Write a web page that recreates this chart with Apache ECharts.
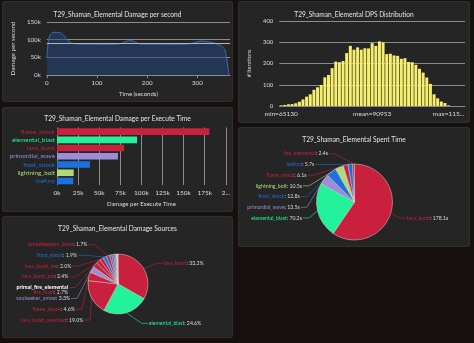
<!DOCTYPE html>
<html>
<head>
<meta charset="utf-8">
<script src="https://cdn.jsdelivr.net/npm/echarts@6/dist/echarts.min.js"></script>
<style>
  html, body { margin: 0; padding: 0; width: 474px; height: 343px; overflow: hidden; background: #16100e; }
  .panel { position: absolute; background: #252525; border-radius: 3px; box-shadow: inset 0 0 0 1px #2f2f2f; }
</style>
</head>
<body>
<div id="dps" class="panel" style="left:2px;top:1px;width:231px;height:101px"></div>
<div id="dist" class="panel" style="left:238px;top:1px;width:232px;height:122px"></div>
<div id="det" class="panel" style="left:2px;top:107px;width:231px;height:105px"></div>
<div id="spent" class="panel" style="left:238px;top:127px;width:232px;height:120px"></div>
<div id="sources" class="panel" style="left:2px;top:216px;width:231px;height:122px"></div>
<script>
// ---- data ----
const actor = 'T29_Shaman_Elemental';

// DPS over time (seconds, damage per second)
const dpsTime = [0, 3, 6, 10, 15, 20, 25, 30, 35, 40, 45, 50, 55, 60, 70, 80, 90, 100, 110, 120, 130, 140, 145, 150, 155, 160, 165, 170, 175, 180, 185, 190, 200, 210, 220, 230, 240, 250, 260, 270, 280, 285, 290, 295, 300, 305, 310, 315, 320, 325, 330, 335, 340, 345, 350, 355, 358, 361, 363];
const dpsValues = [50000, 95000, 112000, 119000, 121000, 121000, 120000, 117000, 110000, 101000, 94000, 90000, 88500, 88000, 87500, 87500, 87000, 87000, 87000, 87000, 87000, 87500, 88500, 90000, 93000, 96000, 97500, 97000, 94500, 91000, 88500, 87500, 87000, 87000, 87000, 87000, 87000, 87000, 87000, 87000, 87500, 88500, 90000, 92000, 94000, 95500, 96000, 95500, 94500, 93500, 92000, 90000, 87000, 84000, 80000, 70000, 50000, 20000, 0];
const meanDps = 90953;

// DPS distribution histogram (# iterations per bin)
const distCounts = [3, 5, 8, 9, 13, 20, 31, 44, 55, 76, 88, 99, 135, 146, 178, 209, 206, 212, 249, 283, 265, 276, 265, 272, 271, 296, 283, 304, 299, 244, 246, 238, 236, 222, 225, 207, 206, 194, 175, 157, 134, 104, 55, 36, 21, 14, 3, 0, 0, 0, 0];
const distTickIndex = [0, 25, 46];
const distTickText = ['min=65130', 'mean=90953', 'max=115...'];

// Damage per execute time
const detNames = ['flame_shock', 'elemental_blast', 'lava_burst', 'primordial_wave', 'frost_shock', 'lightning_bolt', 'icefury'];
const detValues = [180500, 94800, 79600, 72200, 39000, 19800, 19300];
const detSchools = ['fire', 'elemental', 'fire', 'shadow', 'frost', 'nature', 'frost'];

// Spent time (seconds)
const spentNames = ['lava_burst', 'elemental_blast', 'primordial_wave', 'frost_shock', 'lightning_bolt', 'flame_shock', 'icefury', 'fire_elemental'];
const spentSeconds = [178.1, 70.2, 13.5, 12.8, 10.5, 6.1, 5.7, 2.4];
const spentSchools = ['fire', 'elemental', 'shadow', 'frost', 'nature', 'fire', 'frost', 'fire'];

// Damage sources (% of total damage)
const srcNames = ['lava_burst', 'elemental_blast', 'lava_burst_overload', 'flame_shock', 'soulseeker_arrow', 'fire_blast', 'lava_burst_pw', 'lava_burst_pw', 'frost_shock', 'broodkeepers_blaze', 'icefury', 'meteor', 'icefury_overload', 'primordial_wave', 'lightning_bolt', 'lightning_bolt_overload'];
const srcOwners = ['', '', '', '', '', 'primal_fire_elemental', '', '', '', '', '', '', '', '', '', ''];
const srcPercent = [33.2, 24.6, 19.0, 4.6, 3.3, 2.7, 2.4, 2.0, 1.9, 1.7, 1.3, 1.0, 0.9, 0.6, 0.5, 0.3];
const srcSchools = ['fire', 'elemental', 'fire', 'fire', 'shadow', 'fire', 'fire', 'fire', 'frost', 'fire', 'frost', 'fire', 'frost', 'shadow', 'nature', 'nature'];
const srcLabelMin = 1.5;

// ---- styling ----
const FONT = 'Lato, "Open Sans", sans-serif';
const TEXT = '#dcdcdc';
const GRID = '#8c8c8c';
const schoolColor = {
  fire: '#C8203D',
  elemental: '#22F29A',
  shadow: '#9E8DD6',
  frost: '#1B72DE',
  nature: '#B2D978'
};

function titleOf(text, top) {
  return { text: text, left: 'center', top: top,
    textStyle: { color: '#e4e4e4', fontSize: 6.6, fontWeight: 'normal', fontFamily: FONT } };
}
const kfmt = v => (v / 1000) + 'k';

// Pie label placement: labels on the left are stacked upward from a baseline
// with a fixed step and pulled onto a circle of radius R around the centre;
// labels on the right stay at their slice's direction.
function stackedPieLabels(cfg) {
  const total = cfg.values.reduce((a, b) => a + b, 0);
  const rank = {};
  let acc = 0, k = 0;
  cfg.values.forEach((v, i) => {
    const mid = (acc + v / 2) / total * Math.PI * 2;
    acc += v;
    if (cfg.shown[i] && Math.sin(mid) < 0) rank[i] = k++;
  });
  return function (p) {
    if (!p.labelLinePoints) return {};
    const e = p.labelLinePoints[0];
    const ux = (e[0] - cfg.cx) / cfg.r, uy = (e[1] - cfg.cy) / cfg.r;
    const dir = ux < 0 ? -1 : 1;
    const n = cfg.lines ? (cfg.lines[p.dataIndex] || 1) : 1;
    const lineH = p.labelRect.height / n;
    const yFirst = (dir < 0 && rank[p.dataIndex] !== undefined)
      ? cfg.bottom - rank[p.dataIndex] * cfg.step
      : cfg.cy + uy * cfg.reach;
    const dy = yFirst - cfg.cy;
    const dx = Math.sqrt(Math.max(cfg.R * cfg.R - dy * dy, 0));
    const xt = cfg.cx + dir * Math.max(dx, 12);
    return {
      x: xt, y: yFirst + (n - 1) * lineH / 2,
      align: dir < 0 ? 'right' : 'left', verticalAlign: 'middle',
      labelLinePoints: [e, [xt - dir * 7, yFirst], [xt - dir * 1, yFirst]]
    };
  };
}

// ---- DPS timeline ----
echarts.init(document.getElementById('dps')).setOption({
  animation: false,
  textStyle: { fontFamily: FONT },
  title: titleOf(actor + ' Damage per second', 5),
  grid: { left: 38, right: 3, top: 21, bottom: 26 },
  xAxis: {
    type: 'value', min: 0, max: 365, interval: 100,
    name: 'Time (seconds)', nameLocation: 'middle', nameGap: 13,
    nameTextStyle: { color: TEXT, fontSize: 6 },
    axisLine: { show: true, lineStyle: { color: GRID } },
    axisTick: { show: true, length: 3, lineStyle: { color: GRID } },
    axisLabel: { color: TEXT, fontSize: 6.2, margin: 5, showMaxLabel: false },
    splitLine: { show: false }
  },
  yAxis: {
    type: 'value', min: 0, max: 150000, interval: 50000,
    name: 'Damage per second', nameLocation: 'middle', nameGap: 21, nameRotate: 90,
    nameTextStyle: { color: TEXT, fontSize: 6.2 },
    axisLine: { show: false }, axisTick: { show: false },
    axisLabel: { color: TEXT, fontSize: 6.2, margin: 6, formatter: kfmt },
    splitLine: { lineStyle: { color: GRID, width: 1 } }
  },
  series: [{
    type: 'line', showSymbol: false, smooth: 0.3,
    data: dpsTime.map((t, i) => [t, dpsValues[i]]),
    lineStyle: { color: '#3a6db3', width: 1 },
    areaStyle: { color: 'rgba(34,72,128,0.75)' },
    markLine: {
      silent: true, symbol: 'none', label: { show: false },
      lineStyle: { color: '#b5b5b5', type: 'solid', width: 1 },
      data: [{ yAxis: meanDps }]
    }
  }]
});

// ---- DPS distribution ----
echarts.init(document.getElementById('dist')).setOption({
  animation: false,
  textStyle: { fontFamily: FONT },
  title: titleOf(actor + ' DPS Distribution', 5),
  grid: { left: 32, right: 5, top: 20, bottom: 17 },
  xAxis: {
    type: 'category', data: distCounts.map((_, i) => i),
    axisLine: { show: true, lineStyle: { color: GRID } },
    axisTick: { show: false },
    axisLabel: {
      color: TEXT, fontSize: 6.5, margin: 4,
      interval: i => distTickIndex.indexOf(i) >= 0,
      formatter: (v, i) => { const k = distTickIndex.indexOf(i); return k >= 0 ? distTickText[k] : ''; }
    }
  },
  yAxis: {
    type: 'value', min: 0, max: 400, interval: 100,
    name: '# Iterations', nameLocation: 'middle', nameGap: 16, nameRotate: 90,
    nameTextStyle: { color: TEXT, fontSize: 5.5 },
    axisLabel: { color: TEXT, fontSize: 6, margin: 6 },
    splitLine: { lineStyle: { color: GRID } }
  },
  series: [{
    type: 'bar', data: distCounts, barCategoryGap: '18%',
    itemStyle: { color: '#F6EE6E' }
  }]
});

// ---- Damage per execute time ----
echarts.init(document.getElementById('det')).setOption({
  animation: false,
  textStyle: { fontFamily: FONT },
  title: titleOf(actor + ' Damage per Execute Time', 3),
  grid: { left: 55, right: 5, top: 20.5, bottom: 26 },
  xAxis: {
    type: 'value', min: 0, max: 200000, interval: 25000,
    name: 'Damage per Execute Time', nameLocation: 'middle', nameGap: 14,
    nameTextStyle: { color: TEXT, fontSize: 6 },
    axisLine: { show: false }, axisTick: { show: false },
    axisLabel: { color: TEXT, fontSize: 6.5, margin: 4,
      formatter: v => v === 200000 ? '2...' : kfmt(v) },
    splitLine: { lineStyle: { color: GRID } }
  },
  yAxis: {
    type: 'category', inverse: true, data: detNames,
    axisLine: { show: false }, axisTick: { show: false },
    axisLabel: { interval: 0, fontSize: 6.3, margin: 2, color: (v, i) => schoolColor[detSchools[i]] }
  },
  series: [{
    type: 'bar', barCategoryGap: '20%',
    data: detValues.map((v, i) => ({ value: v, itemStyle: { color: schoolColor[detSchools[i]] } }))
  }]
});

// pie label rich styles, one per school
const rich = {
  v: { color: TEXT, fontSize: 5.2 },
  o: { color: '#ffffff', fontSize: 5.4, fontWeight: 'bold' }
};
Object.keys(schoolColor).forEach(k => { rich[k] = { color: schoolColor[k], fontSize: 5.2 }; });

// ---- Spent time ----
echarts.init(document.getElementById('spent')).setOption({
  animation: false,
  textStyle: { fontFamily: FONT },
  title: titleOf(actor + ' Spent Time', 4),
  series: [{
    type: 'pie', center: [116.5, 75], radius: 38, startAngle: 90, clockwise: true,
    avoidLabelOverlap: false,
    itemStyle: { borderColor: '#d8d8d8', borderWidth: 0.5 },
    label: { show: true, position: 'outside', overflow: 'none', fontFamily: FONT, fontSize: 5.2, rich: rich,
      formatter: p => '{' + spentSchools[p.dataIndex] + '|' + p.name + '}{v|: ' + p.value.toFixed(1) + 's}' },
    labelLine: { show: true, length: 5, length2: 5, lineStyle: { width: 0.6 } },
    labelLayout: stackedPieLabels({
      values: spentSeconds, shown: spentSeconds.map(() => true),
      cx: 116.5, cy: 75, r: 38, R: 55, reach: 55, bottom: 91, step: 10.7
    }),
    data: spentNames.map((n, i) => ({ name: n, value: spentSeconds[i], itemStyle: { color: schoolColor[spentSchools[i]] } }))
  }]
});

// ---- Damage sources ----
echarts.init(document.getElementById('sources')).setOption({
  animation: false,
  textStyle: { fontFamily: FONT },
  title: titleOf(actor + ' Damage Sources', 4),
  series: [{
    type: 'pie', center: [116, 68], radius: 30, startAngle: 90, clockwise: true,
    avoidLabelOverlap: false,
    itemStyle: { borderColor: '#d8d8d8', borderWidth: 0.5 },
    label: { show: true, position: 'outside', overflow: 'none', fontFamily: FONT, fontSize: 5.2, rich: rich,
      formatter: p => {
        const i = p.dataIndex;
        const head = srcOwners[i] ? '{o|' + srcOwners[i] + '}\n' : '';
        return head + '{' + srcSchools[i] + '|' + p.name + '}{v|: ' + p.value.toFixed(1) + '%}';
      } },
    labelLine: { show: true, length: 5, length2: 5, lineStyle: { width: 0.6 } },
    labelLayout: stackedPieLabels({
      values: srcPercent, shown: srcPercent.map(v => v >= srcLabelMin),
      lines: srcOwners.map(o => o ? 2 : 1),
      cx: 116, cy: 68, r: 30, R: 50, reach: 41, bottom: 104, step: 10.8
    }),
    data: srcNames.map((n, i) => ({
      name: n, value: srcPercent[i],
      itemStyle: { color: schoolColor[srcSchools[i]] },
      label: { show: srcPercent[i] >= srcLabelMin },
      labelLine: { show: srcPercent[i] >= srcLabelMin }
    }))
  }]
});
</script>
</body>
</html>
